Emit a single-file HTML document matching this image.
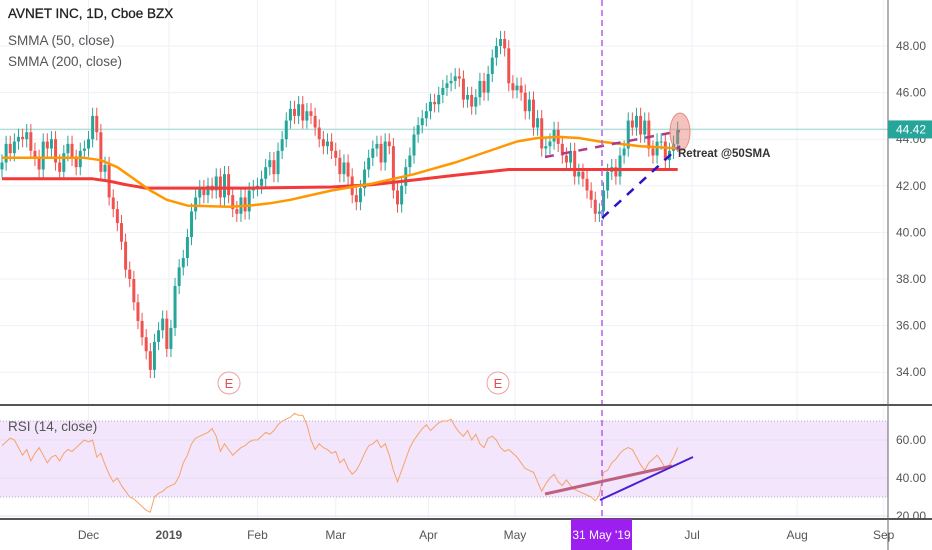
<!DOCTYPE html>
<html><head><meta charset="utf-8"><style>
body{margin:0;background:#fff;font-family:"Liberation Sans",sans-serif}
svg{display:block}
text{font-family:"Liberation Sans",sans-serif}
</style></head><body>
<svg id="c" width="932" height="550" viewBox="0 0 932 550" xmlns="http://www.w3.org/2000/svg">
<g id="grid"></g>
<g id="main"></g>
<g id="rsi"></g>
<g id="axes"></g>
</svg>
<script>
const closes=[43.0,43.8,43.4,43.9,44.1,44.0,44.3,43.5,43.2,42.7,43.9,43.6,44.0,43.0,42.6,43.4,43.8,43.2,42.8,43.5,43.6,44.0,
45.0,44.3,42.6,42.9,41.5,41.0,40.4,39.6,38.4,38.0,37.0,36.2,35.5,34.9,34.1,35.3,35.8,36.3,35.0,35.9,
37.7,38.5,38.9,39.8,40.9,41.5,41.9,41.6,42.0,41.8,42.4,41.5,42.5,41.6,41.0,40.8,41.5,40.9,41.8,41.9,
42.0,42.3,42.8,43.1,42.5,43.5,44.0,44.8,45.3,45.0,45.5,44.8,45.2,45.0,44.5,44.0,43.7,43.9,43.5,
43.2,42.5,43.0,42.4,41.6,41.3,41.9,42.7,43.2,43.6,43.8,43.0,43.9,43.7,41.8,41.2,42.0,42.8,43.3,44.2,
44.6,44.9,45.2,45.6,45.5,45.9,46.2,46.4,46.5,46.7,46.6,45.7,45.9,45.4,45.8,46.5,46.0,46.8,47.5,48.0,48.3,47.9,
46.4,46.1,46.3,46.0,45.2,45.7,44.5,44.9,43.6,43.7,43.9,44.4,43.8,43.3,43.0,43.5,42.4,42.6,42.3,41.8,41.4,40.8,
40.9,41.8,42.6,42.8,42.4,43.3,43.6,44.8,44.5,45.0,44.2,44.8,43.6,43.3,43.9,43.9,43.1,43.5,43.8,44.4];
const rsiValues=[57,59,61,60,56,52,55,49,53,56,52,48,51,52,49,53,55,54,56,58,60,59,
60,51,53,47,42,38,40,36,33,30,29,27,25,23,22,30,32,33,35,36,
37,41,48,52,58,61,62,63,64,66,62,54,58,55,52,54,56,57,59,60,
60,62,64,63,65,68,70,71,72,74,73,73,68,60,55,58,56,55,53,
54,48,50,45,42,44,48,53,57,58,60,56,58,52,44,38,44,50,56,60,
63,66,68,65,67,69,70,70,71,67,64,62,65,60,63,58,56,61,62,60,56,54,
55,53,51,48,45,44,43,38,33,37,40,42,38,36,39,36,34,33,32,31,30,28,
31,43,44,48,50,53,55,56,55,51,47,44,48,50,52,49,45,47,51,56];
const smma50Idx=[0,20,24,28,32,36,40,45,55,60,65,70,75,80,85,90,95,100,105,110,115,120,125,130,135,140,145,150,155,160,164];
const smma50Val=[43.2,43.2,43.1,42.8,42.3,41.8,41.4,41.15,41.1,41.15,41.25,41.4,41.6,41.8,41.95,42.1,42.3,42.5,42.75,43.0,43.3,43.6,43.9,44.05,44.1,44.05,43.9,43.8,43.7,43.65,43.6];
const smma200Idx=[0,22,26,30,35,60,80,90,100,110,118,123,164];
const smma200Val=[42.3,42.3,42.2,42.05,41.9,41.9,41.95,42.05,42.25,42.45,42.6,42.7,42.7];
const priceTicks=[34,36,38,40,42,44,46,48];
const rsiTicks=[20,40,60];
const monthLabels=["Dec","2019","Feb","Mar","Apr","May","Jul","Aug","Sep"];
const monthIdx=[21,40.5,62,81,103.5,124.5,167.5,193,214];
const lastPrice=44.42;

const NS="http://www.w3.org/2000/svg";
function mk(tag,at,parent){const e=document.createElementNS(NS,tag);for(const k in at)e.setAttribute(k,at[k]);parent.appendChild(e);return e;}
const X=i=>2+i*4.12;
const Y=p=>46+(48-p)*23.3;
const RY=v=>440+(60-v)*1.9;
const grid=document.getElementById('grid'),main=document.getElementById('main'),rsi=document.getElementById('rsi'),axes=document.getElementById('axes');

monthIdx.forEach(i=>{const l=mk('line',{x1:X(i),x2:X(i),y1:0,y2:519,stroke:'#eef1f7','stroke-width':1},grid);});
priceTicks.forEach(p=>{const l=mk('line',{x1:0,x2:888,y1:Y(p),y2:Y(p),stroke:'#eef1f7'},grid);});
let b=mk('rect',{x:0,y:RY(70),width:888,height:RY(30)-RY(70),fill:'#f3e5fc'},rsi);

[70,30].forEach(v=>{const l=mk('line',{x1:0,x2:888,y1:RY(v),y2:RY(v),stroke:'#b8a8c8','stroke-dasharray':'1 2'},rsi);});
rsiTicks.forEach(v=>{const l=mk('line',{x1:0,x2:888,y1:RY(v),y2:RY(v),stroke:'#e6def0'},rsi);});

let lp=mk('line',{x1:0,x2:888,y1:Y(lastPrice),y2:Y(lastPrice),stroke:'#b2dfdb','stroke-width':1.5},main);


closes.forEach((c,i)=>{
  const o=i?closes[i-1]:c-0.3;const up=c>=o;const col=up?'#26a69a':'#ef5350';
  const hi=Math.max(o,c)+0.35,lo=Math.min(o,c)-0.35;
  const g=mk('g',{},main);
  mk('line',{x1:X(i),x2:X(i),y1:Y(hi),y2:Y(lo),stroke:col,'stroke-width':1},g);
  const top=Y(Math.max(o,c)),h=Math.max(1,Math.abs(Y(o)-Y(c)));
  mk('rect',{x:X(i)-1.5,y:top,width:3,height:h,fill:col},g);
});
function path(idx,val,fn){return idx.map((i,k)=>(k?'L':'M')+X(i).toFixed(1)+' '+fn(val[k]).toFixed(1)).join(' ');}
let s200=mk('path',{d:path(smma200Idx,smma200Val,Y),fill:'none',stroke:'#f23a3a','stroke-width':3,'stroke-linejoin':'round'},main);

let s50=mk('path',{d:path(smma50Idx,smma50Val,Y),fill:'none',stroke:'#ff9800','stroke-width':2.5,'stroke-linejoin':'round'},main);

let rl=mk('path',{d:rsiValues.map((v,i)=>(i?'L':'M')+X(i).toFixed(1)+' '+RY(v).toFixed(1)).join(' '),fill:'none',stroke:'#f7a26a','stroke-width':1},rsi);

</script>
<svg style="position:absolute;left:0;top:0" width="932" height="550">
 <line x1="545" y1="157" x2="680" y2="131" stroke="#b03a8a" stroke-width="2.5" stroke-dasharray="9 8"/>
 <line x1="602" y1="218" x2="680" y2="146" stroke="#2a14c8" stroke-width="2.5" stroke-dasharray="9 8"/>
 <ellipse cx="680" cy="132" rx="10" ry="19" fill="rgba(232,120,110,0.45)" stroke="#e0907f"/>
 <text x="678" y="157" font-size="11.5" font-weight="bold" fill="#333">Retreat @50SMA</text>
 <line x1="602" y1="0" x2="602" y2="519" stroke="#b45cf0" stroke-width="1.5" stroke-dasharray="6 4"/>
 <g><circle cx="229" cy="383" r="11" fill="#fff" stroke="#f0a0a0"/><text x="229" y="388" font-size="13" fill="#e05050" text-anchor="middle">E</text></g>
 <g><circle cx="498" cy="383" r="11" fill="#fff" stroke="#f0a0a0"/><text x="498" y="388" font-size="13" fill="#e05050" text-anchor="middle">E</text></g>
 <line x1="545" y1="494" x2="672" y2="466" stroke="#c0607f" stroke-width="3"/>
 <line x1="600" y1="500" x2="693" y2="457" stroke="#4a1fd6" stroke-width="2"/>
 <line x1="0" y1="405" x2="932" y2="405" stroke="#555" stroke-width="2"/>
 <line x1="0" y1="519" x2="932" y2="519" stroke="#555" stroke-width="2"/>
 <line x1="888" y1="0" x2="888" y2="550" stroke="#666" stroke-width="1"/>
 <text x="8" y="18" font-size="13.5" fill="#222" stroke="#222" stroke-width="0.3">AVNET INC, 1D, Cboe BZX</text>
 <text x="8" y="45" font-size="13.5" fill="#555">SMMA (50, close)</text>
 <text x="8" y="66" font-size="13.5" fill="#555">SMMA (200, close)</text>
 <text x="8" y="431" font-size="13.5" fill="#555">RSI (14, close)</text>
</svg>
<script>
(function(){
 const ov=document.querySelectorAll('svg')[1];
 priceTicks.forEach(p=>{const t=mk('text',{x:896,y:Y(p)+4,'font-size':12,fill:'#555'},ov);t.textContent=p.toFixed(2);
 
 });
 rsiTicks.forEach(v=>{const t=mk('text',{x:896,y:RY(v)+4,'font-size':12,fill:'#555'},ov);t.textContent=v.toFixed(2);
 
 });
 const g=mk('g',{},ov);
 
 
 mk('rect',{x:888,y:Y(lastPrice)-9,width:44,height:18,fill:'#26a69a'},g);
 const tt=mk('text',{x:896,y:Y(lastPrice)+4,'font-size':12,fill:'#fff'},g);tt.textContent=lastPrice.toFixed(2);
 monthLabels.forEach((m,k)=>{const t=mk('text',{x:X(monthIdx[k]),y:539,'font-size':12,fill:'#555','text-anchor':'middle','font-weight':m==='2019'?'bold':'normal'},ov);t.textContent=m;
 
 });
 const d=mk('g',{},ov);
 
 
 mk('rect',{x:571,y:519,width:61,height:31,fill:'#9c1ff0'},d);
 const dt=mk('text',{x:601.5,y:539,'font-size':12,fill:'#fff','text-anchor':'middle'},d);dt.textContent="31 May '19";
})();
</script>
</body></html>
